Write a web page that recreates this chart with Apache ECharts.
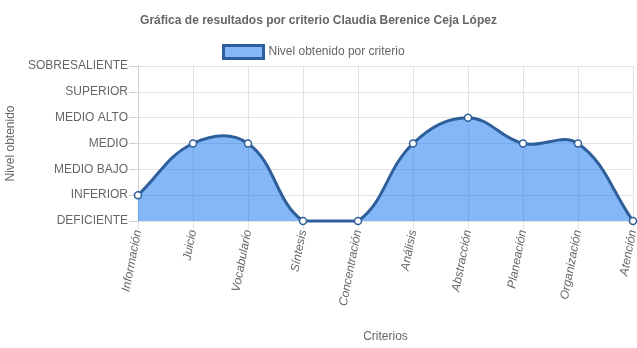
<!DOCTYPE html>
<html>
<head>
<meta charset="utf-8">
<script src="https://cdn.jsdelivr.net/npm/echarts@6/dist/echarts.min.js"></script>
<style>
  html, body { margin: 0; padding: 0; background: #fff; }
  #chart { width: 637px; height: 348px; }
</style>
</head>
<body>
<div id="chart"></div>
<script>
// Evaluation criteria (x axis)
const criterios = ['Información', 'Juicio', 'Vocabulario', 'Síntesis', 'Concentración',
  'Análisis', 'Abstracción', 'Planeación', 'Organización', 'Atención'];
// Level names, index = numeric level (y axis)
const niveles = ['DEFICIENTE', 'INFERIOR', 'MEDIO BAJO', 'MEDIO', 'MEDIO ALTO', 'SUPERIOR', 'SOBRESALIENTE'];
// Level obtained per criterion
const nivelObtenido = [1, 3, 3, 0, 0, 3, 4, 3, 3, 0];

const FONT = 'Liberation Sans, Arial, sans-serif';
const GRID = '#e2e2e2';
const LINE = '#2f5f9b';
const FILL = 'rgba(20,117,240,0.52)';
const TENSION = 0.4;

// Cardinal spline through the points (overshooting allowed), control points
// capped to the plotting rectangle.
function splinePath(pts, rect) {
  const n = pts.length;
  const cps = pts.map((cur, i) => {
    const prev = pts[i - 1] || cur;
    const next = pts[i + 1] || cur;
    const d01 = Math.hypot(cur[0] - prev[0], cur[1] - prev[1]);
    const d12 = Math.hypot(next[0] - cur[0], next[1] - cur[1]);
    let s01 = d01 / (d01 + d12), s12 = d12 / (d01 + d12);
    if (!isFinite(s01)) s01 = 0;
    if (!isFinite(s12)) s12 = 0;
    const fa = TENSION * s01, fb = TENSION * s12;
    const clampX = x => Math.min(Math.max(x, rect.x), rect.x + rect.width);
    const clampY = y => Math.min(Math.max(y, rect.y), rect.y + rect.height);
    return {
      prev: [clampX(cur[0] - fa * (next[0] - prev[0])), clampY(cur[1] - fa * (next[1] - prev[1]))],
      next: [clampX(cur[0] + fb * (next[0] - prev[0])), clampY(cur[1] + fb * (next[1] - prev[1]))]
    };
  });
  let d = 'M' + pts[0][0] + ' ' + pts[0][1];
  for (let i = 1; i < n; i++) {
    const a = cps[i - 1].next, b = cps[i].prev, p = pts[i];
    d += ' C' + a[0] + ' ' + a[1] + ' ' + b[0] + ' ' + b[1] + ' ' + p[0] + ' ' + p[1];
  }
  return d;
}

const chart = echarts.init(document.getElementById('chart'), null, { renderer: 'canvas' });
chart.setOption({
  animation: false,
  title: {
    text: 'Gráfica de resultados por criterio Claudia Berenice Ceja López',
    left: 'center',
    top: 10,
    textStyle: { fontFamily: FONT, fontSize: 12, fontWeight: 'bold', color: '#666' }
  },
  legend: {
    top: 44,
    left: 222,
    padding: 0,
    itemWidth: 40,
    itemHeight: 13,
    itemGap: 6,
    icon: 'rect',
    textStyle: { fontFamily: FONT, fontSize: 12, color: '#666' },
    data: [{
      name: 'Nivel obtenido por criterio',
      itemStyle: { color: FILL, borderColor: LINE, borderWidth: 3 }
    }]
  },
  grid: { left: 138, right: 4, top: 66, bottom: 127, containLabel: false, outerBoundsMode: 'none' },
  xAxis: {
    type: 'category',
    data: criterios,
    boundaryGap: false,
    name: 'Criterios',
    nameLocation: 'middle',
    nameGap: 110,
    nameTextStyle: { fontFamily: FONT, fontSize: 12, color: '#666' },
    axisLine: { lineStyle: { color: GRID } },
    axisTick: { show: true, length: 8, lineStyle: { color: GRID } },
    axisLabel: {
      rotate: 79,
      margin: 9,
      fontFamily: FONT,
      fontSize: 12,
      fontStyle: 'italic',
      color: '#666'
    },
    splitLine: { show: true, lineStyle: { color: GRID } }
  },
  yAxis: {
    type: 'value',
    min: 0,
    max: 6,
    interval: 1,
    name: 'Nivel obtenido',
    nameLocation: 'middle',
    nameGap: 113,
    nameRotate: 90,
    nameTextStyle: { fontFamily: FONT, fontSize: 12, color: '#666' },
    axisLine: { show: true, lineStyle: { color: '#d0d0d0' } },
    axisTick: { show: true, length: 9, lineStyle: { color: '#d0d0d0' } },
    axisLabel: {
      margin: 10,
      fontFamily: FONT,
      fontSize: 12,
      color: '#666',
      formatter: v => niveles[v] || ''
    },
    splitLine: { show: true, lineStyle: { color: GRID } }
  },
  series: [{
    // filled spline curve, drawn once from the whole series
    name: 'curva',
    type: 'custom',
    data: nivelObtenido.map((v, i) => [i, v]),
    renderItem: (params, api) => {
      if (params.dataIndex !== 0) return null;
      const rect = params.coordSys;
      const pts = nivelObtenido.map((v, i) => api.coord([i, v]));
      const line = splinePath(pts, rect);
      const bottom = rect.y + rect.height;
      const last = pts[pts.length - 1];
      const area = line + ' L' + last[0] + ' ' + bottom + ' L' + pts[0][0] + ' ' + bottom + ' Z';
      return {
        type: 'group',
        children: [
          { type: 'path', shape: { pathData: area }, style: { fill: FILL, stroke: null } },
          { type: 'path', shape: { pathData: line }, style: { fill: null, stroke: LINE, lineWidth: 3 } }
        ]
      };
    },
    silent: true,
    z: 2
  }, {
    // data points
    name: 'Nivel obtenido por criterio',
    type: 'line',
    data: nivelObtenido,
    symbol: 'circle',
    symbolSize: 7,
    showAllSymbol: true,
    itemStyle: { color: '#ffffff', borderColor: LINE, borderWidth: 1.5 },
    lineStyle: { width: 0, opacity: 0 },
    z: 3
  }]
});
</script>
</body>
</html>
